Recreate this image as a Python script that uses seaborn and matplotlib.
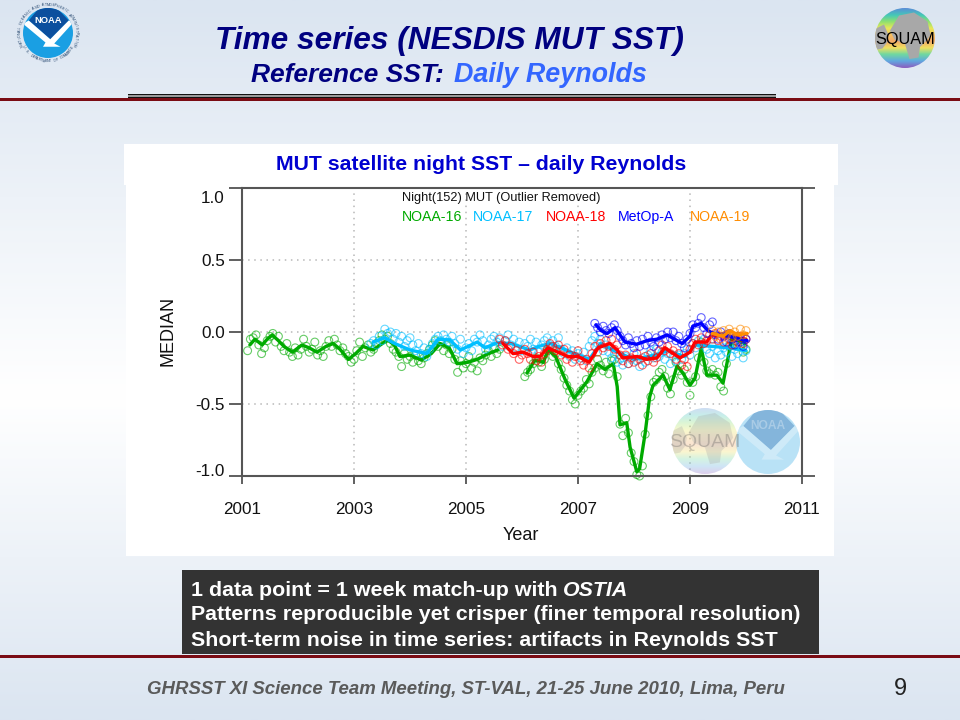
import numpy as np
import seaborn as sns
import matplotlib.pyplot as plt
from matplotlib.colors import LinearSegmentedColormap
from matplotlib.patches import Circle, Polygon, Rectangle
from matplotlib.transforms import ScaledTranslation

sns.set_theme(style="white")
plt.rcParams["font.family"] = ["Liberation Sans", "DejaVu Sans"]

x_ticks = [2001, 2003, 2005, 2007, 2009, 2011]
y_ticks = [-1.0, -0.5, 0.0, 0.5, 1.0]
y_tick_labels = ["-1.0", "-0.5", "0.0", "0.5", "1.0"]

legend_names = ["NOAA-16", "NOAA-17", "NOAA-18", "MetOp-A", "NOAA-19"]
colors = ["#00aa00", "#00bfff", "#ff0000", "#0000ff", "#ff8c00"]

# smoothed lines
n16_line_a_year = [2001.14, 2001.23, 2001.36, 2001.45, 2001.54, 2001.65, 2001.75, 2001.9, 2002.07, 2002.2, 2002.34,
                   2002.5, 2002.63, 2002.75, 2002.9, 2003.03, 2003.16, 2003.34, 2003.6, 2003.72, 2003.82, 2004.0,
                   2004.2, 2004.38, 2004.54, 2004.7, 2004.84, 2005.04, 2005.2, 2005.4, 2005.57]
n16_line_a = [-0.09, -0.05, -0.09, -0.05, -0.02, -0.06, -0.10, -0.14, -0.09, -0.11, -0.14,
              -0.10, -0.08, -0.12, -0.19, -0.15, -0.10, -0.125, -0.055, -0.09, -0.17, -0.16,
              -0.195, -0.15, -0.08, -0.11, -0.22, -0.21, -0.19, -0.15, -0.125]
n16_line_b_year = [2006.09, 2006.23, 2006.38, 2006.47, 2006.6, 2006.77, 2006.93, 2007.16, 2007.34, 2007.48, 2007.63,
                   2007.7, 2007.75, 2007.87, 2007.93, 2008.05, 2008.1, 2008.2, 2008.28, 2008.34, 2008.52, 2008.64,
                   2008.77, 2008.88, 2009.0, 2009.09, 2009.2, 2009.3, 2009.48, 2009.59, 2009.75, 2009.98]
n16_line_b = [-0.285, -0.195, -0.21, -0.125, -0.17, -0.33, -0.46, -0.345, -0.22, -0.26, -0.22,
              -0.38, -0.645, -0.63, -0.80, -0.97, -0.95, -0.70, -0.45, -0.37, -0.30, -0.40,
              -0.235, -0.29, -0.37, -0.32, -0.11, -0.30, -0.30, -0.355, -0.04, -0.08]

n17_line_year = [2003.34, 2003.55, 2003.7, 2004.0, 2004.3, 2004.5, 2004.71, 2004.9, 2005.2, 2005.34, 2005.55, 2005.8,
                 2006.14, 2006.3, 2006.5, 2006.7, 2007.0, 2007.2, 2007.4, 2007.7, 2008.0, 2008.4, 2008.6, 2008.9,
                 2009.1, 2009.4, 2009.7, 2010.0]
n17_line = [-0.07, -0.04, -0.075, -0.125, -0.15, -0.05, -0.055, -0.125, -0.07, -0.11, -0.075, -0.08,
            -0.125, -0.10, -0.08, -0.11, -0.16, -0.19, -0.08, -0.14, -0.19, -0.16, -0.13, -0.17,
            -0.09, -0.10, -0.11, -0.13]

n18_line_year = [2005.66, 2005.84, 2006.02, 2006.2, 2006.32, 2006.46, 2006.64, 2006.82, 2007.0, 2007.2, 2007.36,
                 2007.57, 2007.7, 2007.8, 2008.05, 2008.23, 2008.41, 2008.55, 2008.82, 2009.0, 2009.09, 2009.3,
                 2009.38, 2009.7, 2010.0]
n18_line = [-0.08, -0.15, -0.14, -0.17, -0.17, -0.11, -0.14, -0.17, -0.17, -0.21, -0.11,
            -0.08, -0.125, -0.18, -0.17, -0.19, -0.18, -0.11, -0.18, -0.14, -0.07, -0.07,
            -0.02, -0.03, -0.05]

metop_line_year = [2007.32, 2007.41, 2007.52, 2007.66, 2007.84, 2008.05, 2008.23, 2008.41, 2008.59, 2008.86, 2009.0,
                   2009.05, 2009.2, 2009.32, 2009.41, 2009.6, 2009.8, 2010.02]
metop_line = [0.05, 0.01, -0.01, 0.03, -0.07, -0.085, -0.06, -0.05, -0.02, -0.08, -0.03,
              0.04, 0.06, 0.01, -0.01, -0.02, -0.04, -0.06]

n19_line_year = [2009.4, 2009.59, 2009.71, 2009.86, 2010.02]
n19_line = [-0.01, -0.03, 0.01, -0.02, -0.01]

# weekly match-up circles, thinned out to one every 0.05 yr
n16_dots_a = [-0.13, -0.05, -0.04, -0.02, -0.09, -0.15, -0.11, -0.06, -0.03, -0.01, -0.07, -0.03, -0.10, -0.13, -0.08,
              -0.14, -0.17, -0.11, -0.16, -0.12, -0.05, -0.10, -0.14, -0.12, -0.07, -0.16, -0.13, -0.17, -0.10, -0.06,
              -0.10, -0.05, -0.09, -0.13, -0.11, -0.15, -0.17, -0.21, -0.19, -0.13, -0.07, -0.17, -0.11, -0.09, -0.14,
              -0.12, -0.08, -0.06, -0.02, -0.05, -0.03, -0.08, -0.12, -0.14, -0.17, -0.24, -0.15, -0.19, -0.17, -0.21,
              -0.16, -0.20, -0.22, -0.18, -0.15, -0.12, -0.09, -0.06, -0.10, -0.07, -0.13, -0.09, -0.15, -0.12, -0.19,
              -0.28, -0.20, -0.25, -0.22, -0.17, -0.25, -0.21, -0.27, -0.18, -0.20, -0.16, -0.13, -0.17, -0.11, -0.15,
              -0.12]
n16_dots_b = [-0.31, -0.28, -0.26, -0.22, -0.18, -0.21, -0.24, -0.19, -0.13, -0.11, -0.17, -0.15, -0.22, -0.26, -0.32,
              -0.37, -0.41, -0.47, -0.50, -0.44, -0.41, -0.39, -0.33, -0.36, -0.28, -0.25, -0.19, -0.23, -0.27, -0.21,
              -0.29, -0.20, -0.19, -0.31, -0.64, -0.72, -0.60, -0.70, -0.84, -0.90, -0.99, -1.00, -0.93, -0.71, -0.58,
              -0.45, -0.35, -0.33, -0.28, -0.26, -0.31, -0.39, -0.43, -0.33, -0.21, -0.27, -0.30, -0.26, -0.35, -0.44,
              -0.35, -0.31, -0.18, -0.07, -0.21, -0.27, -0.29, -0.26, -0.30, -0.28, -0.38, -0.41, -0.22, -0.10, -0.03,
              -0.06, -0.09, -0.10, -0.14, -0.12]
n17_dots = [-0.08, -0.06, -0.09, -0.03, -0.06, 0.02, -0.01, 0.00, -0.05, -0.01, -0.07, -0.03, -0.10, -0.06,
            -0.04, -0.09, -0.13, -0.08, -0.15, -0.11, -0.17, -0.12, -0.08, -0.05, -0.03, -0.06, -0.02, -0.05,
            -0.07, -0.03, -0.08, -0.12, -0.05, -0.15, -0.11, -0.08, -0.13, -0.05, -0.07, -0.02, -0.06, -0.12,
            -0.09, -0.05, -0.03, -0.07, -0.04, -0.10, -0.06, -0.02, -0.09, -0.05, -0.11, -0.07, -0.13, -0.08,
            -0.10, -0.05, -0.12, -0.07, -0.14, -0.09, -0.06, -0.04, -0.09, -0.06, -0.10, -0.04, -0.12, -0.15,
            -0.11, -0.17, -0.13, -0.19, -0.15, -0.18, -0.14, -0.20, -0.10, -0.06, -0.03, -0.08, -0.05, -0.13,
            -0.09, -0.14, -0.18, -0.15, -0.21, -0.19, -0.23, -0.17, -0.22, -0.19, -0.15, -0.20, -0.24, -0.18,
            -0.21, -0.16, -0.13, -0.18, -0.12, -0.17, -0.14, -0.19, -0.15, -0.22, -0.17, -0.20, -0.16, -0.19,
            -0.15, -0.12, -0.16, -0.08, -0.11, -0.06, -0.09, -0.05, -0.12, -0.15, -0.10, -0.18, -0.13, -0.16,
            -0.11, -0.14, -0.09, -0.17, -0.12, -0.15, -0.10, -0.18, -0.13]
n18_dots = [-0.05, -0.09, -0.06, -0.12, -0.10, -0.15, -0.13, -0.19, -0.16, -0.12,
            -0.15, -0.19, -0.14, -0.20, -0.17, -0.21, -0.15, -0.12, -0.08, -0.10,
            -0.13, -0.09, -0.16, -0.12, -0.19, -0.16, -0.21, -0.17, -0.13, -0.20,
            -0.23, -0.19, -0.25, -0.15, -0.10, -0.14, -0.08, -0.11, -0.06, -0.10,
            -0.05, -0.12, -0.09, -0.16, -0.20, -0.16, -0.22, -0.18, -0.21, -0.15,
            -0.19, -0.23, -0.17, -0.20, -0.15, -0.21, -0.18, -0.13, -0.09, -0.13,
            -0.10, -0.15, -0.13, -0.19, -0.15, -0.23, -0.19, -0.24, -0.12, -0.08,
            -0.05, -0.09, -0.04, -0.08, -0.06, -0.02, -0.05, -0.01, -0.06, -0.03,
            -0.07, -0.02, -0.05, -0.09, -0.04, -0.07, -0.03, -0.08, -0.05]
metop_dots = [0.06, 0.03, 0.00, 0.04, 0.01, -0.01, 0.03, 0.05, 0.01, -0.03, -0.06,
              -0.09, -0.04, -0.08, -0.11, -0.06, -0.10, -0.05, -0.09, -0.03, -0.07, -0.10,
              -0.04, -0.07, -0.02, -0.05, 0.00, -0.04, 0.00, -0.06, -0.03, -0.08, -0.11,
              -0.05, -0.01, 0.05, 0.03, 0.06, 0.10, 0.03, -0.01, 0.05, 0.07, -0.02,
              -0.05, 0.00, -0.03, -0.07, -0.01, -0.05, -0.09, -0.03, -0.07, -0.10, -0.05]
n19_dots = [0.01, -0.03, 0.00, -0.05, 0.01, -0.02, 0.02, -0.04, 0.00, -0.03, 0.02, -0.02, 0.01]

series = [
    (n16_dots_a, 2001.10, 2005.60, n16_line_a_year, n16_line_a, 0),
    (n16_dots_b, 2006.05, 2010.00, n16_line_b_year, n16_line_b, 0),
    (n17_dots, 2003.30, 2010.00, n17_line_year, n17_line, 1),
    (n18_dots, 2005.60, 2010.00, n18_line_year, n18_line, 2),
    (metop_dots, 2007.30, 2010.00, metop_line_year, metop_line, 3),
    (n19_dots, 2009.40, 2010.00, n19_line_year, n19_line, 4),
]

W, H = 960, 720
NAVY = "#000080"
DARK_RED = "#7a0c14"


def draw_noaa(ax, cx, cy, r, alpha=1.0, ring=True):
    disc = Circle((cx, cy), r, fc="#1a9fe3", ec="none", alpha=alpha, zorder=3)
    ax.add_patch(disc)
    navy = [(-0.77, -0.5), (-0.4, -0.95), (0, -1.05), (0.4, -0.95), (0.83, -0.5), (0.09, 0.25)]
    top = Polygon([(cx + a * r, cy + b * r) for a, b in navy], fc="#0b4f9e", ec="none", alpha=alpha, zorder=4)
    ax.add_patch(top)
    top.set_clip_path(disc)
    bird = [(-1.0, -0.37), (-0.77, -0.5), (0.09, 0.25), (0.83, -0.5), (1.03, -0.44), (0.25, 0.42), (0.5, 0.55),
            (-0.2, 0.55), (-0.1, 0.38)]
    wing = Polygon([(cx + a * r, cy + b * r) for a, b in bird], fc="white", ec="none", alpha=alpha, zorder=5)
    ax.add_patch(wing)
    wing.set_clip_path(disc)
    ax.text(cx, cy - 0.5 * r, "NOAA", color="white", fontsize=r * 0.27, fontweight="bold", ha="center", va="center",
            alpha=alpha, zorder=6)
    if not ring:
        return
    upper = "NATIONAL OCEANIC AND ATMOSPHERIC ADMINISTRATION"
    for i, ch in enumerate(upper):
        ang = np.radians(-115 + 230 * i / (len(upper) - 1))
        ax.text(cx + 1.13 * r * np.sin(ang), cy - 1.13 * r * np.cos(ang), ch, fontsize=2.6, color="#24466e",
                rotation=-np.degrees(ang), ha="center", va="center", alpha=alpha, zorder=3)
    lower = "U.S. DEPARTMENT OF COMMERCE"
    for i, ch in enumerate(lower):
        ang = np.radians(-60 + 120 * i / (len(lower) - 1))
        ax.text(cx + 1.13 * r * np.sin(ang), cy + 1.13 * r * np.cos(ang), ch, fontsize=2.6, color="#24466e",
                rotation=np.degrees(ang), ha="center", va="center", alpha=alpha, zorder=3)


globe_map = LinearSegmentedColormap.from_list(
    "globe", ["#5a8fd6", "#45c8b8", "#8fe070", "#e8e858", "#f8c060", "#f0a868", "#f0e060", "#70d8a0", "#60a8e0",
              "#8a60c0"])


def draw_squam(ax, cx, cy, r, alpha=1.0, text_color="black", text_size=11.7):
    rim = Circle((cx, cy), r, transform=ax.transData)
    img = ax.imshow(np.linspace(0, 1, 64).reshape(-1, 1), cmap=globe_map, aspect="auto", alpha=alpha,
                    extent=(cx - r, cx + r, cy + r, cy - r), zorder=3)
    img.set_clip_path(rim)
    land = "#a8a8a8"
    africa = [(-0.2, -0.75), (0.3, -0.85), (0.75, -0.55), (0.85, -0.1), (0.75, 0.05), (0.5, 0.3), (0.45, 0.65),
              (0.15, 0.7), (0.0, 0.2), (-0.35, 0.05), (-0.5, -0.25)]
    america = [(-1.0, -0.3), (-0.7, -0.45), (-0.55, -0.1), (-0.6, 0.15), (-0.75, 0.35), (-1.0, 0.4)]
    for shape in (africa, america):
        p = Polygon([(cx + a * r, cy + b * r) for a, b in shape], fc=land, ec="none", alpha=alpha, zorder=4)
        ax.add_patch(p)
        p.set_clip_path(rim)
    ax.text(cx, cy + 0.05 * r, "SQUAM", color=text_color, fontsize=text_size, ha="center", va="center", zorder=6,
            alpha=alpha)


fig = plt.figure(figsize=(9.6, 7.2), dpi=100)

# slide background, furniture and panels in pixel coordinates
deco = fig.add_axes([0, 0, 1, 1], zorder=0)
shade = np.interp(np.linspace(0, 1, 256), [0, 0.55, 1], [0, 1, 0]).reshape(-1, 1)
deco.imshow(shade, cmap=LinearSegmentedColormap.from_list("bg", ["#dbe5f1", "#ffffff"]), aspect="auto",
            extent=(0, W, H, 0), zorder=0)
deco.add_patch(Rectangle((124, 144), 714, 41, fc="white", ec="none", zorder=1))
deco.add_patch(Rectangle((126, 185), 708, 371, fc="white", ec="none", zorder=1))
deco.add_patch(Rectangle((0, 98), W, 3, fc=DARK_RED, ec="none", zorder=2))
deco.add_patch(Rectangle((128, 93.5), 648, 4.5, fc="#9a9a9a", ec="none", zorder=2))
deco.add_patch(Rectangle((128, 93.5), 648, 1.2, fc="#111111", ec="none", zorder=3))
deco.add_patch(Rectangle((128, 96.5), 648, 1.5, fc="#111111", ec="none", zorder=3))
deco.add_patch(Rectangle((0, 655), W, 3, fc=DARK_RED, ec="none", zorder=2))
deco.add_patch(Rectangle((182, 570), 637, 84, fc="#333333", ec="none", zorder=2))
draw_noaa(deco, 48, 33, 25)
draw_squam(deco, 905, 38, 30)

deco.text(449.5, 41, "Time series (NESDIS MUT SST)", color=NAVY, fontsize=22.8, fontweight="bold", fontstyle="italic",
          ha="center", va="center", zorder=5)
deco.text(251, 75, "Reference SST:", color=NAVY, fontsize=19, fontweight="bold", fontstyle="italic", ha="left",
          va="center", zorder=5)
deco.text(454, 75, "Daily Reynolds", color="#3366ff", fontsize=19.4, fontweight="bold", fontstyle="italic", ha="left",
          va="center", zorder=5)
deco.text(481, 164, "MUT satellite night SST – daily Reynolds", color="#0000d0", fontsize=15.3, fontweight="bold",
          ha="center", va="center", zorder=5)

box_text = dict(color="white", fontsize=15.4, fontweight="bold", ha="left", va="center", zorder=5)
deco.text(191, 590, "1 data point = 1 week match-up with", **box_text)
deco.text(563, 590, "OSTIA", fontstyle="italic", **box_text)
deco.text(191, 615, "Patterns reproducible yet crisper (finer temporal resolution)", **box_text)
deco.text(191, 641, "Short-term noise in time series: artifacts in Reynolds SST", **box_text)
deco.text(147, 689, "GHRSST XI Science Team Meeting, ST-VAL, 21-25 June 2010, Lima, Peru", color="#5a5a5a",
          fontsize=13.4, fontweight="bold", fontstyle="italic", ha="left", va="center", zorder=5)
deco.text(900, 689, "9", color="#222222", fontsize=17, ha="center", va="center", zorder=5)
deco.set_xlim(0, W)
deco.set_ylim(H, 0)
deco.axis("off")

# the chart itself
ax = fig.add_axes([242 / W, 1 - 476 / H, 560 / W, 288 / H], zorder=1)
ax.patch.set_alpha(0)
for dots, start, stop, line_year, line_val, c in series:
    sns.scatterplot(x=np.linspace(start, stop, len(dots)), y=dots, ax=ax, s=32, marker="o", facecolor="none",
                    edgecolor=colors[c], linewidth=0.8, alpha=0.6, clip_on=False, zorder=2 + c)
    sns.lineplot(x=line_year, y=line_val, ax=ax, color=colors[c], linewidth=2.4, errorbar=None, zorder=2.5 + c)

ax.set_xlim(2001, 2011)
ax.set_ylim(-1.0, 1.0)
ax.set_xticks(x_ticks)
ax.set_yticks(y_ticks)
ax.set_yticklabels(y_tick_labels)
ax.grid(True, color="#b8b8b8", linestyle=(0, (1, 3)), linewidth=1.1)
ax.tick_params(axis="y", left=True, right=True, length=9.5, width=1.2, color="#444444", labelsize=12.3, pad=3,
               labelcolor="#111111")
ax.tick_params(axis="x", bottom=True, length=5.5, width=1.2, color="#444444", labelsize=12.3, pad=13,
               labelcolor="#111111")
for side in ax.spines:
    ax.spines[side].set_color("#555555")
    ax.spines[side].set_linewidth(1.5)
# the end labels sit inside the axis range in the original
ytl = ax.get_yticklabels()
nudge = ScaledTranslation(0, -3 / 100, fig.dpi_scale_trans)
ytl[0].set_va("bottom")
ytl[0].set_transform(ytl[0].get_transform() + nudge)
ytl[-1].set_va("top")
ytl[-1].set_transform(ytl[-1].get_transform() + nudge)
ax.set_xlabel("")
ax.set_ylabel("")

deco.text(521, 535, "Year", color="#111111", fontsize=13, ha="center", va="center", zorder=5)
deco.text(168, 331, "MEDIAN", color="#111111", fontsize=13, rotation=90, ha="center", va="center", zorder=5)

# legend block sits on top of the grid
over = fig.add_axes([0, 0, 1, 1], zorder=2)
over.patch.set_alpha(0)
over.text(402, 198, "Night(152) MUT (Outlier Removed)", color="#111111", fontsize=9.2, ha="left", va="center")
for name, c, left in zip(legend_names, colors, [402, 473, 546, 618, 690]):
    over.text(left, 217, name, color=c, fontsize=10.2, ha="left", va="center")

# washed out watermarks over the corner of the plot
draw_squam(over, 705, 441, 33, alpha=0.3, text_color="#555555", text_size=14)
draw_noaa(over, 768, 442, 32, alpha=0.3, ring=False)
over.set_xlim(0, W)
over.set_ylim(H, 0)
over.axis("off")

fig.savefig("out.png", dpi=100)
